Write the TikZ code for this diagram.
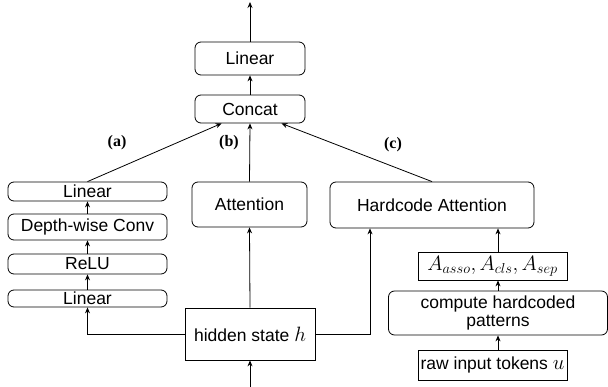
\documentclass[tikz,border=0pt]{standalone}
\usepackage{fontspec}
\setmainfont{Liberation Sans}
\newfontfamily\labfont{Liberation Serif}
\usetikzlibrary{arrows.meta,calc}
\newcommand{\bmath}[1]{{\fontsize{20.5}{22}\selectfont$#1$}}
\begin{document}
\begin{tikzpicture}[x=1pt,y=-1pt,
  every node/.style={font=\fontsize{17.5}{19}\selectfont, inner sep=0pt, align=center},
  rbox/.style={draw, rounded corners=6pt, line width=0.8pt},
  sbox/.style={draw, line width=0.8pt},
  arr/.style={line width=0.8pt, -{Stealth[length=6pt,width=5pt]}},
  lab/.style={font=\labfont\bfseries\fontsize{16}{18}\selectfont}
]
\useasboundingbox (0,0) rectangle (608,387);
% top
\node[rbox, minimum width=110pt, minimum height=33pt] (lin2) at (250,58.5) {Linear};
\node[rbox, minimum width=110pt, minimum height=28pt] (concat) at (250,109) {Concat};
% left branch
\node[rbox, minimum width=159pt, minimum height=19pt] (la4) at (87.5,191.5) {Linear};
\node[rbox, minimum width=159pt, minimum height=26pt] (dwc) at (87.5,227) {Depth-wise Conv};
\node[rbox, minimum width=159pt, minimum height=20pt] (relu) at (87.5,264) {ReLU};
\node[rbox, minimum width=159pt, minimum height=17pt] (la1) at (87.5,298.5) {Linear};
% middle
\node[rbox, minimum width=115pt, minimum height=45pt] (att) at (249.5,204.5) {Attention};
\node[sbox, minimum width=130pt, minimum height=52pt] (hid) at (250,334) {hidden state \bmath{h}};
% right
\node[rbox, minimum width=204pt, minimum height=46pt] (hatt) at (432,205) {Hardcode Attention};
\node[sbox, minimum width=149pt, minimum height=28pt] (amat) at (492.5,266) {\bmath{A_{asso},A_{cls},A_{sep}}};
\node[rbox, minimum width=219pt, minimum height=44pt] (comp) at (498,313) {compute hardcoded\\[-1pt]patterns};
\node[sbox, minimum width=149pt, minimum height=30pt] (raw) at (492.5,365) {raw input tokens \bmath{u}};
% labels
\node[lab] (la) at (117,143) {(a)};
\node[lab] (lb) at (229,143) {(b)};
\node[lab] (lc) at (393,145) {(c)};
% coordinates
\coordinate (inp) at (250,387);
\coordinate (outp) at (250,2);
\coordinate (hr) at (370,0);
% connectors
\draw[arr] (inp) -- (hid.south);
\draw[arr] (hid.north) -- (att.south);
\draw[arr] (att.north) -- (concat.south);
\draw[arr] (concat.north) -- (lin2.south);
\draw[arr] (lin2.north) -- (outp);
\draw[arr] (la4.north) -- ($(concat.south west)+(27,0)$);
\draw[arr] (hatt.north) -- ($(concat.south east)+(-24,0)$);
\draw[arr] (hid.west) -| (la1.south);
\draw[arr] (la1.north) -- (relu.south);
\draw[arr] (relu.north) -- (dwc.south);
\draw[arr] (dwc.north) -- (la4.south);
\draw[arr] (hid.east) -| (hr |- hatt.south);
\draw[arr] (raw.north -| comp.south) -- (comp.south);
\draw[arr] (comp.north) -- (amat.south -| comp.north);
\draw[arr] (amat.north -| comp.north) -- (hatt.south -| comp.north);
\end{tikzpicture}
\end{document}
